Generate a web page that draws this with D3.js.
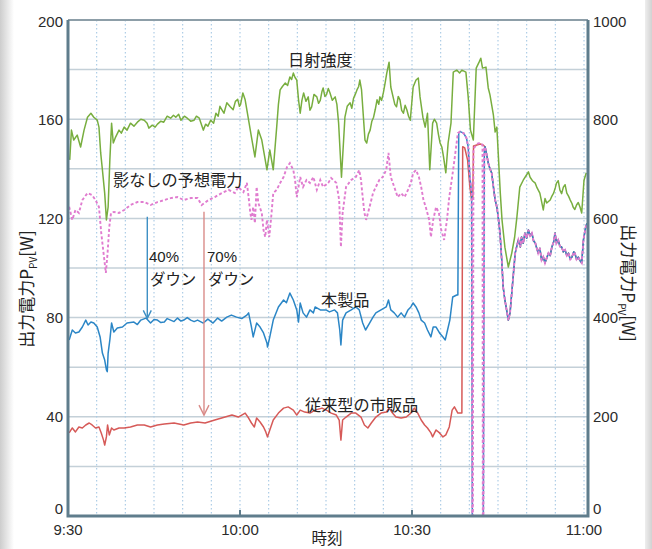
<!DOCTYPE html>
<html>
<head>
<meta charset="utf-8">
<script src="https://cdn.jsdelivr.net/npm/d3@7"></script>
<style>
  html, body { margin: 0; padding: 0; background: #fff; }
  svg { display: block; }
</style>
</head>
<body>
<svg id="chart" width="652" height="549"></svg>
<script>
// Time is given in minutes after 9:30.
const timeTicks = [0, 30, 60, 90];
const timeTickLabels = ["9:30", "10:00", "10:30", "11:00"];
const gridMinutes = d3.range(5, 91, 5);
const powerTicks = [0, 40, 80, 120, 160, 200];
const powerGrid = [20, 40, 60, 80, 100, 120, 140, 160, 180];
const irradianceTicks = [0, 200, 400, 600, 800, 1000];

// 日射強度 (right axis): [minute, value]
const irradiance = [
  [0.3,718],[0.6,778],[1.0,758],[1.6,768],[2.2,744],[2.8,778],[3.4,804],[4.0,812],[4.5,804],[5.1,798],
  [5.4,784],[5.7,732],[6.0,698],[6.4,651],[6.7,597],[7.0,623],[7.3,718],[7.6,792],[7.9,752],[8.3,764],
  [8.9,778],[9.3,772],[9.8,784],[10.3,778],[10.9,792],[11.5,786],[12.1,794],[12.7,800],[13.3,798],[13.8,792],
  [14.1,782],[14.7,788],[15.2,784],[15.6,790],[16.2,796],[16.7,794],[17.3,806],[17.9,802],[18.4,808],[18.8,804],
  [19.3,810],[19.7,798],[20.3,806],[20.8,802],[21.4,796],[22.0,798],[22.4,806],[22.9,802],[23.6,778],[24.0,790],
  [24.4,786],[24.9,798],[25.4,792],[25.8,812],[26.2,806],[26.5,826],[26.8,820],[27.2,812],[27.7,833],[28.3,825],
  [28.8,819],[29.2,836],[29.6,840],[29.9,826],[30.1,830],[30.5,853],[30.9,839],[31.5,798],[32.0,764],[32.6,724],
  [33.2,778],[33.8,758],[34.4,718],[34.7,698],[35.2,738],[35.8,698],[36.4,784],[36.7,830],[37.0,859],[37.4,866],
  [37.9,873],[38.3,868],[38.7,885],[39.0,880],[39.3,893],[39.6,884],[39.9,879],[40.2,840],[40.5,812],[40.8,838],
  [41.1,853],[41.5,836],[41.9,845],[42.2,818],[42.5,825],[42.9,850],[43.4,845],[43.7,832],[44.0,838],[44.3,856],
  [44.5,863],[44.8,846],[45.1,850],[45.4,862],[45.7,853],[46.1,838],[46.6,845],[46.9,830],[47.2,792],[47.7,683],
  [48.3,804],[48.7,826],[49.2,833],[49.5,822],[49.8,842],[50.1,850],[50.4,859],[50.7,866],[50.9,879],[51.2,859],
  [51.8,758],[52.1,752],[52.4,770],[52.7,778],[53.0,796],[53.3,804],[53.6,820],[53.9,839],[54.2,830],[54.4,845],
  [54.7,838],[55.0,853],[55.3,872],[55.6,893],[56.0,915],[56.3,865],[56.7,845],[57.0,830],[57.3,825],[57.6,846],
  [57.9,839],[58.2,818],[58.5,812],[58.8,828],[59.1,819],[59.4,806],[59.7,798],[60.2,865],[60.7,879],[61.1,883],
  [61.4,845],[61.9,804],[62.3,784],[62.7,812],[63.1,698],[63.6,792],[63.9,800],[64.3,792],[64.6,770],[64.9,752],
  [65.2,744],[65.5,724],[65.9,692],[66.3,752],[66.8,792],[67.2,895],[67.8,899],[68.3,893],[68.7,899],[69.4,895],
  [69.8,845],[70.2,778],[70.7,758],[71.2,903],[71.7,915],[72.0,923],[72.3,903],[72.9,905],[73.3,863],[73.6,849],
  [74.2,808],[74.5,774],[74.8,784],[75.1,718],[75.4,651],[75.7,597],[76.2,542],[76.8,502],[77.4,530],[77.9,562],
  [78.3,603],[78.8,663],[79.4,677],[80.0,688],[80.3,694],[80.6,683],[81.0,676],[81.5,671],[81.8,662],[82.3,651],
  [82.9,617],[83.2,640],[83.5,631],[84.1,637],[84.4,645],[84.7,651],[85.0,662],[85.2,671],[85.5,676],[85.8,657],
  [86.1,650],[86.4,663],[86.7,668],[87.0,651],[87.3,645],[87.6,637],[87.9,630],[88.1,623],[88.4,618],[88.7,627],
  [89.0,632],[89.3,623],[89.6,611],[90.0,677],[90.4,692]
];

// 影なしの予想電力 [W]
const predicted = [
  [0.2,124.7],[0.75,119.4],[1.3,123.4],[1.9,122.2],[2.5,127.4],[3.4,130.2],[4.2,129.4],[4.8,127.4],[5.4,124.6],[5.8,114.1],
  [6.2,106],[6.6,98],[6.9,106],[7.2,116.5],[7.5,122.2],[8.0,122.6],[8.9,122.2],[9.8,123.4],[10.9,125.4],[12.1,126.6],
  [13.3,126.6],[14.4,125.4],[15.6,126.6],[16.8,127.4],[17.9,128.2],[19.1,128.6],[20.2,127.4],[21.4,128.2],[22.6,128.2],[23.3,125.4],
  [24.5,127.4],[25.6,128.6],[26.8,130.2],[28.0,131.5],[29.1,130.2],[29.7,132.7],[30.6,130.6],[31.2,134.3],[31.5,128.6],[31.8,122.2],
  [32.0,119.4],[32.3,124.6],[32.6,118.1],[32.9,132.7],[33.2,126.2],[33.8,122.2],[34.1,115.3],[34.4,112.5],[34.7,119.4],[35.1,112.5],
  [35.4,119.4],[35.8,130.2],[36.4,131.5],[37.0,134.3],[37.6,136.7],[38.2,140.7],[38.7,142.3],[39.3,139.5],[39.6,135.5],[39.9,128.6],
  [40.5,136.7],[41.0,132.7],[41.6,135.5],[42.2,134.3],[42.8,136.7],[43.4,131.5],[44.0,135.5],[44.5,132.7],[45.4,134.3],[45.9,136.3],
  [46.8,134.3],[47.3,127.4],[47.6,108.5],[47.9,122.2],[48.5,132.7],[49.4,135.5],[50.2,136.7],[50.8,139.5],[51.1,135.5],[51.4,128.6],
  [51.7,122.2],[52.0,119.4],[52.6,124.6],[53.2,130.2],[53.7,132.7],[54.3,135.5],[54.9,136.7],[55.5,139.5],[55.9,146.4],[56.3,136.7],
  [56.9,132.7],[57.5,128.6],[58.1,130.2],[58.7,128.6],[59.3,131.5],[59.8,134.3],[60.2,138.3],[60.7,139.5],[61.2,136.7],[61.6,132.7],
  [62.0,127.4],[62.4,124.6],[63.0,119.4],[63.3,112.5],[63.7,119.4],[64.2,124.6],[64.7,122.2],[65.1,115.3],[65.6,111.3],[66.1,119.4],
  [66.5,128.6],[67.0,136.7],[67.4,143.5],[68.0,154.4],[68.4,155],[69.0,154.4],[69.5,152.4],[69.8,148.8],[70.1,136.7],[70.4,130.2],
  [70.52,0],[70.62,0],[70.72,148],[71.3,150],[71.9,150.5],[72.3,149.6],[72.35,0],[72.46,0],[72.62,148]
];

// 本製品 [W]
const product = [
  [0.2,71],[0.75,75],[1.3,73.8],[1.9,74.2],[2.5,76.2],[3.1,79],[3.5,77],[4.0,78.2],[4.5,77.8],[5.1,76.2],
  [5.6,72.2],[6.0,65.7],[6.4,62.9],[6.7,58.9],[6.85,58.2],[7.0,65.7],[7.3,71],[7.6,77.8],[8.0,74.2],[8.6,75.8],
  [9.5,76.2],[10.3,77.8],[11.5,78.2],[12.1,77.2],[12.7,79],[13.6,79.8],[14.4,77.8],[15.0,79.2],[15.6,79],[16.2,78],
  [16.8,78.2],[17.3,79.6],[17.9,79],[18.5,78.4],[19.1,79.8],[19.7,78.6],[20.2,79],[20.8,80],[21.4,79],[22.0,78.4],
  [22.6,79],[23.6,77.8],[24.4,79.4],[25.3,77.8],[26.1,79.8],[26.8,78.6],[27.7,80.2],[28.5,81],[29.4,80.2],[30.3,79.6],
  [31.2,81],[31.5,81.9],[32.0,76.2],[32.3,72.2],[32.9,77.8],[33.5,76.2],[34.1,73.8],[34.7,69.8],[34.8,68.1],[35.2,72.2],
  [35.8,79],[36.7,84.3],[37.6,87.1],[38.1,86],[38.7,89.9],[39.3,87.1],[39.9,83.1],[40.2,78.2],[40.5,85.9],[41.0,81.9],
  [41.6,80.2],[42.2,83.1],[42.8,81.9],[43.1,84.3],[44.0,83.1],[45.0,83.1],[45.6,82.3],[46.5,83.1],[47.0,81.9],[47.4,75],
  [47.6,69],[47.9,79],[48.5,81.9],[49.4,83.1],[50.2,84.3],[50.8,83.1],[51.4,77.8],[51.9,75],[52.6,77.8],[53.2,80.2],
  [53.7,81.9],[54.6,83.1],[55.5,84.3],[55.9,87.1],[56.3,83.1],[56.9,81.9],[57.5,80.2],[58.1,81.9],[58.7,80.2],[59.3,83.1],
  [59.8,84.3],[60.2,85.9],[60.7,84.3],[61.2,81.9],[61.6,79],[62.2,77.8],[62.7,75],[63.3,72.2],[63.7,76.2],[64.2,76.2],
  [64.8,73.8],[65.4,72.2],[65.8,71],[66.2,75],[66.6,79],[67.1,88.3],[67.8,89.1],[68.0,89.1],[68.15,154.4],[68.4,155],
  [69.0,154.4],[69.5,152.4],[69.8,148.8],[70.1,136.7],[70.4,130.2],[70.52,0],[72.44,0],[72.62,148]
];

// 従来型の市販品 [W]
const conventional = [
  [0.2,33.5],[0.75,35.5],[1.3,33.9],[1.9,35.9],[2.5,35.5],[3.1,36.7],[3.7,37.5],[4.2,36.7],[4.8,35.5],[5.4,35.9],
  [5.8,33.5],[6.2,30.6],[6.4,28.6],[6.7,31.9],[6.9,36.7],[7.2,32.7],[7.6,35.5],[8.0,34.7],[8.9,35.5],[9.8,35.5],
  [10.9,35.9],[12.1,36.7],[13.3,36.7],[14.4,35.9],[15.6,36.7],[16.8,37.1],[18.5,37.5],[20.2,36.7],[21.4,37.5],[22.6,37.9],
  [23.9,37.5],[25.6,38.7],[27.4,39.9],[28.6,40.7],[29.7,39.9],[30.9,41.5],[31.5,39.5],[32.0,37.5],[32.5,35.9],[32.9,39.5],
  [33.5,37.9],[34.1,35.9],[34.5,33.9],[34.8,31.9],[35.2,34.7],[35.8,38.7],[36.7,41.5],[37.6,43.5],[38.4,44],[39.3,42.7],
  [39.9,40.7],[40.5,42.7],[41.3,41.9],[42.2,41.5],[43.1,42.7],[44.3,43.5],[45.4,42.3],[45.9,41.5],[46.8,40.7],[47.3,38.7],
  [47.6,30.6],[47.9,38.7],[48.5,39.9],[49.4,41.5],[50.2,41.5],[51.1,39.9],[51.7,36.7],[52.3,35.5],[52.9,37.5],[53.7,39.9],
  [54.6,41.5],[55.5,41.9],[56.0,43.5],[56.6,41.5],[57.2,39.9],[58.1,39.5],[59.0,39.9],[59.8,41.5],[60.4,43.5],[61.0,41.5],
  [61.6,38.7],[62.2,36.7],[62.7,35.5],[63.3,33.5],[63.6,31.9],[64.2,34.7],[64.8,33.5],[65.4,31.9],[65.9,32.7],[66.5,35.9],
  [67.0,42.7],[67.4,44],[68.0,41.5],[68.7,41.5],[68.84,148.9],[69.2,148.4],[69.7,143.5],[70.1,132.7],[70.4,127.4],[70.6,128.6],
  [70.73,149.2],[71.3,149.6],[71.9,150],[72.4,149.6]
];

// After about 10:42 the three power traces run together.
const commonTail = [
  [72.74,148.9],[73.0,146],[73.3,142.3],[73.6,140],[73.9,138.3],[74.2,132.7],[74.5,127.4],[74.8,124.6],[75.1,119.4],[75.35,114.1],
  [75.65,103.2],[75.9,92.3],[76.2,87.1],[76.5,83.1],[76.8,79],[77.1,81.9],[77.4,89.9],[77.7,98],[78.0,106],[78.3,109],
  [78.55,111.3],[78.9,108.5],[79.1,112.5],[79.4,110],[79.7,114.1],[80.0,112],[80.3,115.3],[80.6,113],[80.9,114.1],[81.2,111],
  [81.5,110.1],[82.0,106],[82.3,108],[82.6,103.2],[82.9,104.5],[83.2,102],[83.5,104],[83.8,106],[84.1,105],[84.4,108.5],
  [84.7,110.5],[84.95,114.1],[85.2,110],[85.5,111.3],[85.8,108.7],[86.1,108.5],[86.4,106.5],[86.7,107.3],[87.0,105],[87.3,106],
  [87.6,103.5],[87.9,104.4],[88.2,106.5],[88.4,106],[88.7,103.5],[89.0,104.4],[89.3,103],[89.6,102],[89.9,111.3],[90.3,116.5],
  [90.5,118]
];

// Down arrows: [minute, from W, to W]
const downArrows = [
  { label: "40%", minute: 13.83, from: 120.7, to: 79.7, color: "#3d8fc4", head: 4 },
  { label: "70%", minute: 23.72, from: 122.7, to: 40.7, color: "#d98b88", head: 5 }
];

const svg = d3.select("#chart");
const W = 652, H = 549;
const plot = { left: 68, right: 588, top: 20, bottom: 516 };

const x = d3.scaleLinear().domain([0, 90]).range([68, 584]);
const yL = d3.scaleLinear().domain([0, 200]).range([plot.bottom, plot.top]);
const yR = d3.scaleLinear().domain([0, 1000]).range([plot.bottom, plot.top]);

// page edges
const defs = svg.append("defs");
const gl = defs.append("linearGradient").attr("id", "edgeL").attr("x1", 0).attr("x2", 1);
gl.append("stop").attr("offset", 0).attr("stop-color", "#cdcdcd");
gl.append("stop").attr("offset", 1).attr("stop-color", "#ffffff");
const gr = defs.append("linearGradient").attr("id", "edgeR").attr("x1", 0).attr("x2", 1);
gr.append("stop").attr("offset", 0).attr("stop-color", "#eeeeee");
gr.append("stop").attr("offset", 1).attr("stop-color", "#d2d2d2");
svg.append("rect").attr("x", 0).attr("y", 0).attr("width", W).attr("height", H).attr("fill", "#fff");
svg.append("rect").attr("x", 0).attr("y", 0).attr("width", 14).attr("height", H).attr("fill", "url(#edgeL)");
svg.append("rect").attr("x", 645).attr("y", 0).attr("width", 7).attr("height", H).attr("fill", "url(#edgeR)");

defs.append("clipPath").attr("id", "plotClip")
  .append("rect").attr("x", plot.left).attr("y", plot.top)
  .attr("width", plot.right - plot.left).attr("height", plot.bottom - plot.top + 1);

// grid
const grid = svg.append("g");
grid.selectAll("line.h").data(powerGrid).join("line")
  .attr("x1", plot.left).attr("x2", plot.right)
  .attr("y1", d => yL(d)).attr("y2", d => yL(d))
  .attr("stroke", "#c4d0d8").attr("stroke-width", 1.5);
grid.selectAll("line.v").data(gridMinutes).join("line")
  .attr("x1", d => x(d)).attr("x2", d => x(d))
  .attr("y1", plot.top).attr("y2", plot.bottom)
  .attr("stroke", "#a6c8e4").attr("stroke-width", 1.1)
  .attr("stroke-dasharray", "1.5,2.5");

// series
const series = svg.append("g").attr("clip-path", "url(#plotClip)");
const lineL = d3.line().x(d => x(d[0])).y(d => yL(d[1]));
const lineR = d3.line().x(d => x(d[0])).y(d => yR(d[1]));

series.append("path").datum(irradiance).attr("d", lineR)
  .attr("fill", "none").attr("stroke", "#78ae3f").attr("stroke-width", 1.5).attr("stroke-linejoin", "round");
series.append("path").datum(conventional.concat(commonTail)).attr("d", lineL)
  .attr("fill", "none").attr("stroke", "#d65a58").attr("stroke-width", 1.5).attr("stroke-linejoin", "round");
series.append("path").datum(product.concat(commonTail)).attr("d", lineL)
  .attr("fill", "none").attr("stroke", "#2b86c6").attr("stroke-width", 1.5).attr("stroke-linejoin", "round");
series.append("path").datum(predicted.concat(commonTail)).attr("d", lineL)
  .attr("fill", "none").attr("stroke", "#e07ccf").attr("stroke-width", 1.9)
  .attr("stroke-dasharray", "3,2.2");

// frame
const frame = svg.append("g").attr("fill", "none");
frame.append("line").attr("x1", plot.left).attr("x2", plot.right).attr("y1", plot.top).attr("y2", plot.top)
  .attr("stroke", "#8d9ea8").attr("stroke-width", 2);
frame.append("path")
  .attr("d", `M${plot.left},${plot.top} V${plot.bottom} H${plot.right} V${plot.top}`)
  .attr("stroke", "#5f7d8c").attr("stroke-width", 3);
frame.selectAll("line.tick").data(timeTicks.slice(1, 3)).join("line")
  .attr("x1", d => x(d)).attr("x2", d => x(d))
  .attr("y1", plot.bottom).attr("y2", plot.bottom - 6)
  .attr("stroke", "#5f7d8c").attr("stroke-width", 2);

// tick labels
const numFont = "'Liberation Sans', Arial, sans-serif";
const jpFont = "'Noto Sans CJK JP', 'Noto Sans', sans-serif";
const labels = svg.append("g").attr("font-family", numFont).attr("font-size", 15).attr("fill", "#2b2b2b");
const labelY = (v, top) => v === 0 ? 508.5 : (v === top ? 22 : null);

labels.selectAll("text.l").data(powerTicks).join("text")
  .attr("x", 63).attr("text-anchor", "end")
  .attr("y", d => (labelY(d, 200) ?? yL(d)) + 5.4)
  .text(d => d);
labels.selectAll("text.r").data(irradianceTicks).join("text")
  .attr("x", 593).attr("text-anchor", "start")
  .attr("y", d => (labelY(d, 1000) ?? yR(d)) + 5.4)
  .text(d => d);
labels.selectAll("text.t").data(timeTicks).join("text")
  .attr("x", d => x(d)).attr("text-anchor", "middle")
  .attr("y", 535)
  .text((d, i) => timeTickLabels[i]);

// axis titles
svg.append("text").attr("x", 327).attr("y", 544).attr("text-anchor", "middle")
  .attr("font-family", jpFont).attr("font-size", 15.5).attr("fill", "#222").text("時刻");

function axisTitle(cx, cy, angle) {
  const t = svg.append("text")
    .attr("transform", `translate(${cx},${cy}) rotate(${angle})`)
    .attr("text-anchor", "middle").attr("dy", "0.36em")
    .attr("font-family", jpFont).attr("font-size", 17).attr("fill", "#222");
  t.append("tspan").text("出力電力P");
  t.append("tspan").attr("font-size", 10).attr("dy", "0.35em").text("PV");
  t.append("tspan").attr("dy", "-0.2em").text("[W]");
}
axisTitle(27, 289, -90);
axisTitle(628, 283, 90);

// arrows
const ann = svg.append("g");
downArrows.forEach(a => {
  const ax = x(a.minute), y0 = yL(a.from), y1 = yL(a.to);
  ann.append("line").attr("x1", ax).attr("x2", ax).attr("y1", y0).attr("y2", y1)
    .attr("stroke", a.color).attr("stroke-width", 1.4);
  ann.append("path")
    .attr("d", `M${ax - a.head},${y1 - a.head * 2} L${ax},${y1} L${ax + a.head},${y1 - a.head * 2}`)
    .attr("fill", "none").attr("stroke", a.color).attr("stroke-width", 1.4);
});

// annotation text
const notes = svg.append("g").attr("fill", "#222");
function note(txt, px, py, size, family) {
  notes.append("text").attr("x", px).attr("y", py)
    .attr("font-family", family || jpFont).attr("font-size", size).text(txt);
}
note("日射強度", 288, 66, 16.2);
note("影なしの予想電力", 113, 186, 16.2);
note("40%", 149, 262, 15, numFont);
note("ダウン", 150, 285, 15.4);
note("70%", 207, 262, 15, numFont);
note("ダウン", 208, 285, 15.4);
note("本製品", 321, 306, 16.2);
note("従来型の市販品", 305, 411, 16.2);
</script>
</body>
</html>
